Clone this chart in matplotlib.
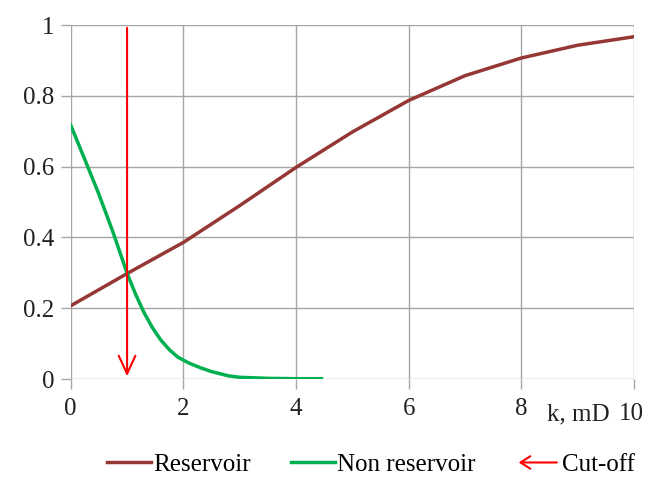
import numpy as np
import matplotlib.pyplot as plt
from matplotlib.legend_handler import HandlerBase
from matplotlib.patches import FancyArrowPatch
from matplotlib.lines import Line2D

plt.rcParams['font.family'] = ['Liberation Serif', 'DejaVu Serif']

# reservoir probability curve
k_res = [0, 1, 2, 3, 4, 5, 6, 7, 8, 9, 10]
p_res = [0.207, 0.298, 0.386, 0.49, 0.598, 0.698, 0.787, 0.857, 0.907, 0.943, 0.967]

# non-reservoir curve
k_non = [0, 0.25, 0.5, 0.75, 1.0, 1.15, 1.3, 1.45, 1.6, 1.75, 1.9, 2.1, 2.3, 2.5, 2.8, 3.0, 3.5, 4.0, 4.45]
p_non = [0.717, 0.62, 0.522, 0.415, 0.299, 0.24, 0.188, 0.145, 0.11, 0.083, 0.062, 0.045, 0.032, 0.021, 0.009, 0.005, 0.002, 0.001, 0.001]

cutoff_k = 1.0
xticks = [0, 2, 4, 6, 8, 10]
yticks = [0, 0.2, 0.4, 0.6, 0.8, 1.0]
ytick_labels = ['0', '0.2', '0.4', '0.6', '0.8', '1']

grid_c = '#A6A6A6'
res_c = '#953735'
non_c = '#00B050'
txt_c = '#222222'


class ArrowHandler(HandlerBase):
    def create_artists(self, legend, orig, xd, yd, width, height, fontsize, trans):
        a = FancyArrowPatch((xd + width, yd + height / 2), (xd, yd + height / 2),
                            arrowstyle='->,head_length=7,head_width=4.5',
                            color='red', lw=1.5, transform=trans)
        return [a]


fig = plt.figure(figsize=(6.49, 4.91), dpi=100)
ax = fig.add_axes([0.109, 0.228, 0.868, 0.721])

ax.plot(k_res, p_res, color=res_c, lw=2.5)
ax.plot(k_non, p_non, color=non_c, lw=2.5)
ax.annotate('', xy=(cutoff_k, 0.0), xytext=(cutoff_k, 1.0),
            arrowprops=dict(arrowstyle='->,head_length=1.3,head_width=0.6', color='red', lw=1.5))

ax.set_xlim(0, 10)
ax.set_ylim(0, 1)
ax.set_xticks(xticks)
ax.set_yticks(yticks)
ax.set_yticklabels(ytick_labels)
ax.grid(True, color=grid_c, lw=1)
ax.set_axisbelow(True)
for s in ax.spines.values():
    s.set_visible(False)
ax.tick_params(axis='both', colors=grid_c, length=7, width=1, labelsize=18, labelcolor=txt_c)
ax.tick_params(axis='x', pad=7)
ax.tick_params(axis='y', pad=5)
ax.set_xticklabels(['0', '2', '4', '6', '8', ''])
ax.text(8.45, -0.068, 'k, mD', fontsize=18, color=txt_c, ha='left', va='top')
ax.text(9.95, -0.068, '10', fontsize=18, color=txt_c, ha='center', va='top')

handles = [Line2D([], [], color=res_c, lw=2.5),
           Line2D([], [], color=non_c, lw=2.5),
           Line2D([], [], color='red')]
labels = ['Reservoir', 'Non reservoir', 'Cut-off']
fig.legend(handles, labels, loc='center', bbox_to_anchor=(0.572, 0.053), ncol=3,
           frameon=False, fontsize=18, handlelength=1.75, handletextpad=0.1, columnspacing=1.6,
           handler_map={handles[2]: ArrowHandler()})

fig.savefig('out.png', dpi=100)
